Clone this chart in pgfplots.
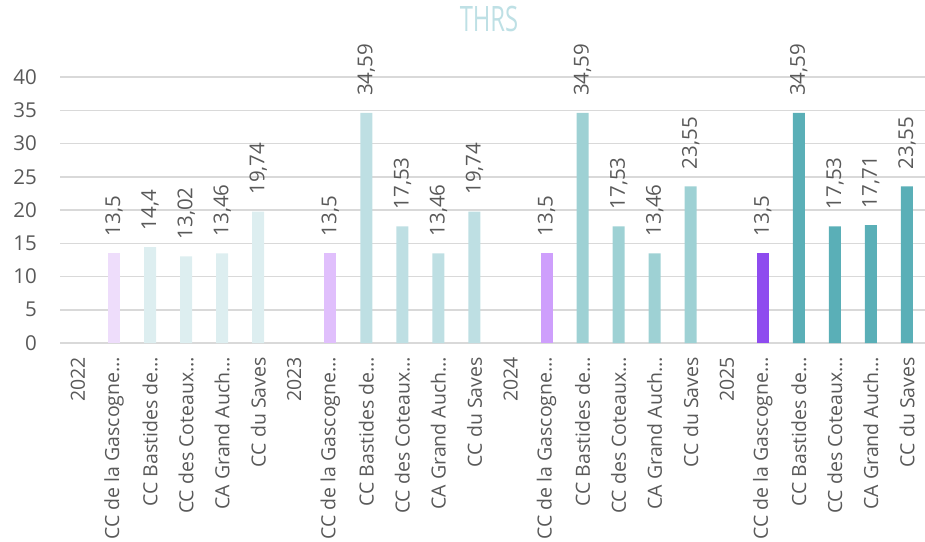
\documentclass[border=0pt]{standalone}
\usepackage{pgfplots}
\pgfplotsset{compat=1.18}
\usepackage{fontspec}
\setmainfont{Open Sans}
\definecolor{txt}{HTML}{595959}
\definecolor{grd}{HTML}{D9D9D9}
\definecolor{ttl}{HTML}{BEE0E5}
\definecolor{ga}{HTML}{EEDDFB}\definecolor{oa}{HTML}{DDEEF0}
\definecolor{gb}{HTML}{E0BFFC}\definecolor{ob}{HTML}{BEDFE3}
\definecolor{gc}{HTML}{CE9FFC}\definecolor{oc}{HTML}{9ED1D4}
\definecolor{gd}{HTML}{8E4BEF}\definecolor{od}{HTML}{5AAFB7}
\begin{document}
\begin{tikzpicture}[x=1pt,y=1pt]
\useasboundingbox (0,0) rectangle (925,541);
\node[text=ttl,inner sep=0pt,anchor=center] at (489,522) {\scalebox{0.68}[1]{\fontsize{35}{35}\selectfont THRS}};
\begin{axis}[
  at={(60pt,198pt)}, anchor=south west,
  scale only axis, width=865pt, height=266pt,
  xmin=-0.5, xmax=23.5, ymin=0, ymax=40,
  ytick={0,5,...,40},
  xtick={0,...,23},
  xticklabels={2022,CC de la Gascogne…,CC Bastides de…,CC des Coteaux…,CA Grand Auch…,CC du Saves,
               2023,CC de la Gascogne…,CC Bastides de…,CC des Coteaux…,CA Grand Auch…,CC du Saves,
               2024,CC de la Gascogne…,CC Bastides de…,CC des Coteaux…,CA Grand Auch…,CC du Saves,
               2025,CC de la Gascogne…,CC Bastides de…,CC des Coteaux…,CA Grand Auch…,CC du Saves},
  axis line style={draw=none},
  major tick length=0pt,
  ymajorgrids, grid style={grd,line width=1.5pt},
  /pgf/number format/assume math mode=true,
  /pgf/number format/use comma,
  tick label style={font=\fontsize{20.5}{20.5}\selectfont, text=txt},
  yticklabel style={anchor=east,inner sep=0pt,xshift=-23pt},
  xticklabel style={rotate=90,anchor=east,inner xsep=14pt,inner ysep=0pt,font=\fontsize{19.5}{19.5}\selectfont},
  ybar, bar width=12pt, bar shift=0pt,
  nodes near coords,
  every node near coord/.append style={rotate=90,anchor=west,inner xsep=17pt,inner ysep=0pt,
     font=\fontsize{20.5}{20.5}\selectfont, text=txt},
  clip=false,
]
\addplot[fill=ga,draw=none] coordinates {(1,13.5)};
\addplot[fill=oa,draw=none] coordinates {(2,14.4) (3,13.02) (4,13.46) (5,19.74)};
\addplot[fill=gb,draw=none] coordinates {(7,13.5)};
\addplot[fill=ob,draw=none] coordinates {(8,34.59) (9,17.53) (10,13.46) (11,19.74)};
\addplot[fill=gc,draw=none] coordinates {(13,13.5)};
\addplot[fill=oc,draw=none] coordinates {(14,34.59) (15,17.53) (16,13.46) (17,23.55)};
\addplot[fill=gd,draw=none] coordinates {(19,13.5)};
\addplot[fill=od,draw=none] coordinates {(20,34.59) (21,17.53) (22,17.71) (23,23.55)};
\end{axis}
\end{tikzpicture}
\end{document}
